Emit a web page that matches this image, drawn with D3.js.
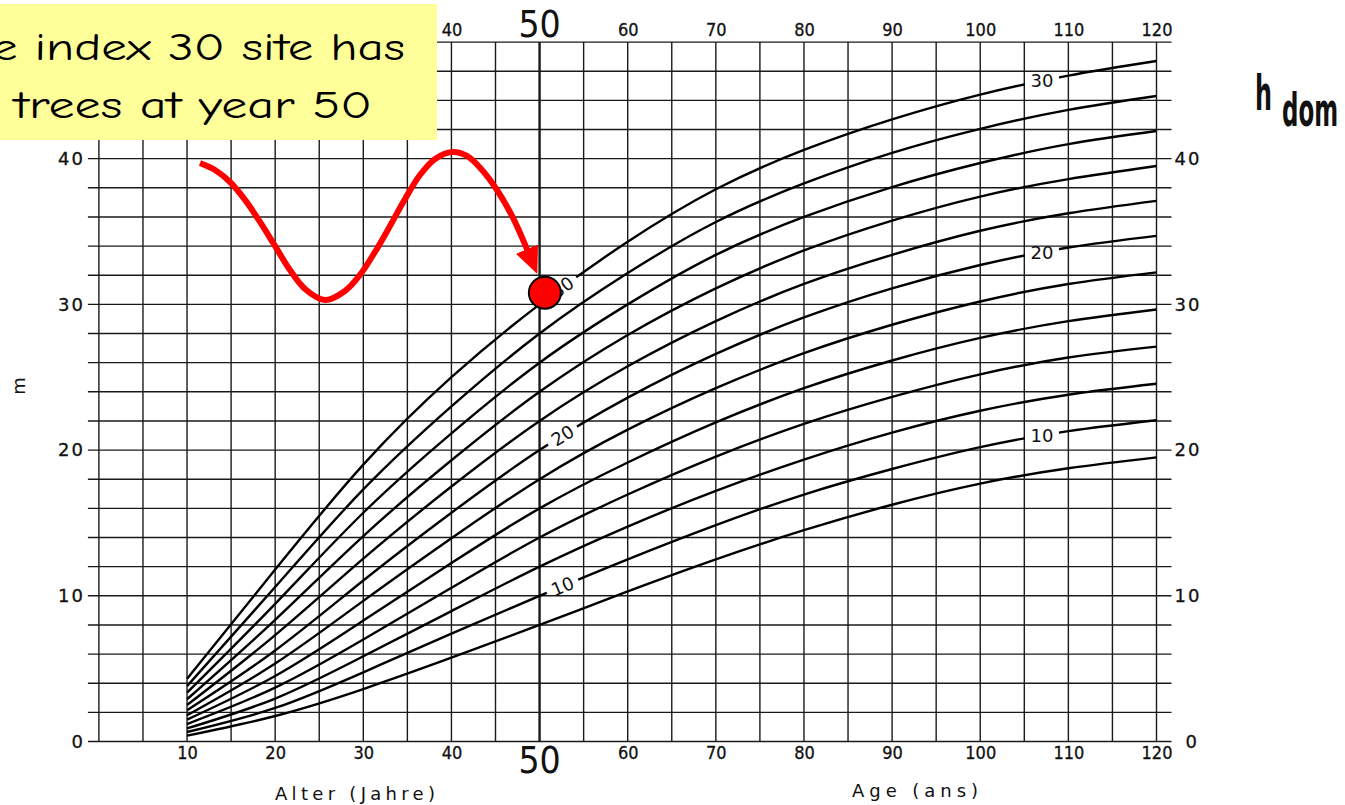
<!DOCTYPE html>
<html>
<head>
<meta charset="utf-8">
<script src="https://cdn.jsdelivr.net/npm/d3@7"></script>
<style>
  html, body { margin: 0; padding: 0; background: #fff; overflow: hidden; }
  svg { display: block; }
</style>
</head>
<body>
<svg id="chart" width="1345" height="805"></svg>
<script>
// Dominant height (hdom, m) over stand age (years); one curve per site index (height at age 50)
const ages = [10, 20, 30, 40, 50, 60, 70, 80, 90, 100, 110, 120];
const si30 = [4.3, 11.8, 19.0, 25.0, 30, 34.3, 37.9, 40.6, 42.7, 44.4, 45.7, 46.7];
const si28 = [3.8, 10.6, 17.3, 23.0, 28, 32.15, 35.65, 38.3, 40.4, 42.05, 43.35, 44.3];
const si26 = [3.35, 9.45, 15.7, 21.15, 26, 30.0, 33.4, 36.0, 38.05, 39.7, 41.0, 41.9];
const si24 = [2.9, 8.35, 14.1, 19.3, 24, 27.9, 31.1, 33.7, 35.75, 37.4, 38.6, 39.5];
const si22 = [2.5, 7.3, 12.55, 17.5, 22, 25.75, 28.85, 31.4, 33.4, 35.05, 36.25, 37.1];
const si20 = [2.15, 6.25, 11.05, 15.7, 20, 23.6, 26.6, 29.1, 31.1, 32.7, 33.9, 34.7];
const si18 = [1.8, 5.35, 9.65, 13.95, 18, 21.4, 24.25, 26.65, 28.6, 30.2, 31.4, 32.2];
const si16 = [1.5, 4.5, 8.3, 12.25, 16, 19.15, 21.9, 24.25, 26.15, 27.7, 28.85, 29.65];
const si14 = [1.2, 3.7, 7.0, 10.55, 14, 16.95, 19.55, 21.8, 23.65, 25.2, 26.35, 27.1];
const si12 = [0.9, 2.95, 5.85, 8.95, 12, 14.75, 17.2, 19.35, 21.2, 22.7, 23.8, 24.55];
const si10 = [0.65, 2.3, 4.75, 7.4, 10, 12.5, 14.85, 16.95, 18.7, 20.2, 21.3, 22.05];
const si08 = [0.4, 1.75, 3.6, 5.75, 8, 10.3, 12.5, 14.5, 16.25, 17.7, 18.75, 19.5];

const siteIndices = [30, 28, 26, 24, 22, 20, 18, 16, 14, 12, 10, 8];
const seriesValues = [si30, si28, si26, si24, si22, si20, si18, si16, si14, si12, si10, si08];

// Curves carrying an inline label, and the ages where the labels sit
const labelledSites = [30, 20, 10];
const labelAges = [52.6, 107.0];

// Axis tick labels
const bottomAgeLabels = [10, 20, 30, 40, 60, 70, 80, 90, 100, 110, 120];
const topAgeLabels = [40, 60, 70, 80, 90, 100, 110, 120];
const heightLabels = [0, 10, 20, 30, 40];
const keyAge = 50;

// Annotation: highlighted point and the wavy pointer leading to it (age, height)
const markPoint = { age: 50.6, h: 30.8 };
const pointerAges = [11.47, 13.17, 14.88, 16.58, 18.28, 19.98, 21.68, 23.39, 25.65, 27.92, 29.62, 31.33,
                     33.03, 34.73, 36.43, 38.14, 40.07, 41.77, 43.47, 45.17, 46.88, 48.7];
const pointerHeights = [39.70, 39.22, 38.40, 37.17, 35.66, 34.01, 32.36, 31.06, 30.30, 30.92, 32.02, 33.60,
                        35.38, 37.23, 38.88, 39.98, 40.46, 40.19, 39.22, 37.85, 36.07, 33.60];
const calloutLines = ["e index 30 site has", "trees at year 50"];

const svg = d3.select("#chart");
const x = d3.scaleLinear().domain([0, 120]).range([98.9, 1156.5]);
const y = d3.scaleLinear().domain([0, 48]).range([741.5, 42.1]);

const gridColor = "#1a1a1a";
const condensed = '"DejaVu Sans Condensed", "Liberation Sans Narrow", "DejaVu Sans", sans-serif';
const plain = '"DejaVu Sans", "Liberation Sans", sans-serif';

// ---- grid ----
const grid = svg.append("g");
grid.selectAll("line.h").data(d3.range(0, 49, 2)).join("line")
  .attr("x1", x(0) - 11).attr("x2", x(120) + 15)
  .attr("y1", d => y(d)).attr("y2", d => y(d))
  .attr("stroke", gridColor).attr("stroke-width", 1.4);
grid.selectAll("line.v").data(d3.range(0, 121, 5)).join("line")
  .attr("x1", d => x(d)).attr("x2", d => x(d))
  .attr("y1", y(0)).attr("y2", y(48))
  .attr("stroke", gridColor)
  .attr("stroke-width", d => d === keyAge ? 2.4 : 1.4);

// ---- axes (labels only) ----
function styleAxis(g, family, size, spacing) {
  g.select(".domain").remove();
  g.attr("font-size", size).attr("font-family", family);
  g.selectAll("text")
    .attr("fill", "#111")
    .attr("stroke", "#111").attr("stroke-width", 0.3)
    .style("font-family", family)
    .style("font-size", size + "px")
    .style("letter-spacing", spacing + "px");
}
svg.append("g").attr("transform", `translate(0,${y(0)})`)
  .call(d3.axisBottom(x).tickValues(bottomAgeLabels).tickSize(0).tickPadding(5).tickFormat(d3.format("d")))
  .call(g => styleAxis(g, condensed, 18, 0));
svg.append("g").attr("transform", `translate(0,${y(48)})`)
  .call(d3.axisTop(x).tickValues(topAgeLabels).tickSize(0).tickPadding(6).tickFormat(d3.format("d")))
  .call(g => styleAxis(g, condensed, 18, 0));
svg.append("g").attr("transform", `translate(${x(0) - 11},0)`)
  .call(d3.axisLeft(y).tickValues(heightLabels).tickSize(0).tickPadding(3).tickFormat(d3.format("d")))
  .call(g => styleAxis(g, plain, 18, 2));
svg.append("g").attr("transform", `translate(${x(120) + 15},0)`)
  .call(d3.axisRight(y).tickValues(heightLabels).tickSize(0).tickPadding(3).tickFormat(d3.format("d")))
  .call(g => styleAxis(g, plain, 18, 2))
  .call(g => g.selectAll(".tick").filter(d => d === 0).select("text").attr("x", 14));

// large key-age numerals above and below the grid
svg.append("text").attr("x", x(keyAge)).attr("y", 37).attr("text-anchor", "middle")
  .style("font-family", condensed).style("font-size", "37px").attr("fill", "#111").text(keyAge);
svg.append("text").attr("x", x(keyAge)).attr("y", 773).attr("text-anchor", "middle")
  .style("font-family", condensed).style("font-size", "37px").attr("fill", "#111").text(keyAge);

// axis titles
svg.append("text").attr("x", 275).attr("y", 800).attr("textLength", 160).attr("lengthAdjust", "spacing")
  .style("font-family", plain).style("font-size", "18px").attr("fill", "#111")
  .text("Alter (Jahre)");
svg.append("text").attr("x", 852).attr("y", 797).attr("textLength", 126).attr("lengthAdjust", "spacing")
  .style("font-family", plain).style("font-size", "18px").attr("fill", "#111")
  .text("Age (ans)");
svg.append("text").attr("transform", "translate(25,386) rotate(-90)").attr("text-anchor", "middle")
  .style("font-family", plain).style("font-size", "18px").attr("fill", "#111")
  .text("m");
svg.append("text").attr("x", 1255).attr("y", 110).attr("textLength", 17).attr("lengthAdjust", "spacingAndGlyphs")
  .style("font-family", condensed).style("font-weight", "bold").style("font-size", "48px").attr("fill", "#111")
  .text("h");
svg.append("text").attr("x", 1282).attr("y", 126).attr("textLength", 56).attr("lengthAdjust", "spacingAndGlyphs")
  .style("font-family", condensed).style("font-weight", "bold").style("font-size", "46px").attr("fill", "#111")
  .text("dom");

// ---- site index curves ----
const line = d3.line().x(d => x(d[0])).y(d => y(d[1])).curve(d3.curveNatural);
const curves = siteIndices.map((si, i) => ({ si, pts: ages.map((a, j) => [a, seriesValues[i][j]]) }));

const defs = svg.append("defs");
const mask = defs.append("mask").attr("id", "labelGaps")
  .attr("maskUnits", "userSpaceOnUse").attr("x", 0).attr("y", 0).attr("width", 1345).attr("height", 805);
mask.append("rect").attr("width", 1345).attr("height", 805).attr("fill", "#fff");

const curveG = svg.append("g").attr("mask", "url(#labelGaps)");
const paths = curveG.selectAll("path").data(curves).join("path")
  .attr("d", d => line(d.pts))
  .attr("fill", "none").attr("stroke", "#000").attr("stroke-width", 2.4);

// point on a drawn curve at a given age
function pointAt(node, age) {
  const tx = x(age), len = node.getTotalLength();
  let lo = 0, hi = len;
  for (let k = 0; k < 40; k++) {
    const mid = (lo + hi) / 2;
    if (node.getPointAtLength(mid).x < tx) lo = mid; else hi = mid;
  }
  return node.getPointAtLength((lo + hi) / 2);
}

const labelG = svg.append("g");
paths.each(function (d) {
  if (!labelledSites.includes(d.si)) return;
  labelAges.forEach((a, k) => {
    const p = pointAt(this, a);
    let angle = 0;
    if (k === 0) {
      const p0 = pointAt(this, a - 2), p1 = pointAt(this, a + 2);
      angle = Math.atan2(p1.y - p0.y, p1.x - p0.x) * 180 / Math.PI;
    }
    mask.append("rect")
      .attr("x", -17).attr("y", -10).attr("width", 34).attr("height", 20)
      .attr("transform", `translate(${p.x},${p.y}) rotate(${angle})`)
      .attr("fill", "#000");
    labelG.append("text")
      .attr("transform", `translate(${p.x},${p.y}) rotate(${angle})`)
      .attr("text-anchor", "middle").attr("dy", "0.36em")
      .style("font-family", plain).style("font-size", "18px").attr("fill", "#111")
      .text(d.si);
  });
});

// ---- annotation ----
defs.append("marker").attr("id", "arrowHead")
  .attr("markerUnits", "userSpaceOnUse").attr("viewBox", "0 -13 28 26")
  .attr("markerWidth", 28).attr("markerHeight", 26).attr("refX", 3).attr("refY", 0)
  .attr("orient", "auto")
  .append("path").attr("d", "M0,-12L27,0L0,12Z").attr("fill", "#ff0000");

const pointerLine = d3.line().x(d => x(d[0])).y(d => y(d[1])).curve(d3.curveCatmullRom.alpha(0.5));
svg.append("path")
  .attr("d", pointerLine(pointerAges.map((a, i) => [a, pointerHeights[i]])))
  .attr("fill", "none").attr("stroke", "#ff0000").attr("stroke-width", 6)
  .attr("marker-end", "url(#arrowHead)");

svg.append("circle")
  .attr("cx", x(markPoint.age)).attr("cy", y(markPoint.h)).attr("r", 16)
  .attr("fill", "#ff0000").attr("stroke", "#000").attr("stroke-width", 2);

// callout box
svg.append("rect").attr("x", -10).attr("y", 4).attr("width", 447).attr("height", 136).attr("fill", "#ffff99");
svg.append("text").attr("x", -8).attr("y", 60).attr("textLength", 413).attr("lengthAdjust", "spacingAndGlyphs")
  .style("font-family", '"Comic Sans MS", "Comic Neue", "Noto Sans", sans-serif').style("font-size", "38px")
  .attr("fill", "#000").text(calloutLines[0]);
svg.append("text").attr("x", 14).attr("y", 118).attr("textLength", 358).attr("lengthAdjust", "spacingAndGlyphs")
  .style("font-family", '"Comic Sans MS", "Comic Neue", "Noto Sans", sans-serif').style("font-size", "38px")
  .attr("fill", "#000").text(calloutLines[1]);
</script>
</body>
</html>
